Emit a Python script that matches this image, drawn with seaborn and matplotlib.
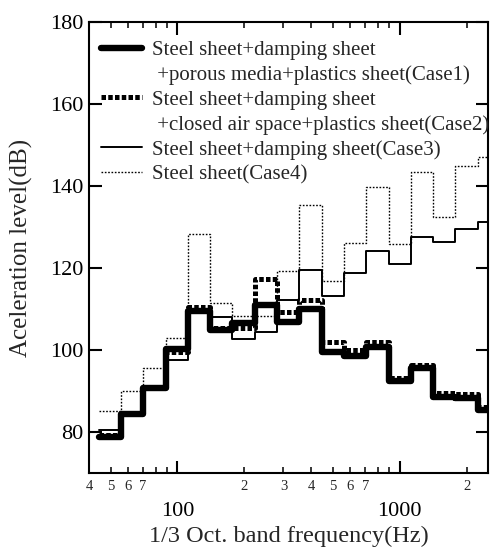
import matplotlib
matplotlib.use("Agg")
import matplotlib.pyplot as plt
from matplotlib.lines import Line2D
from matplotlib.ticker import FixedLocator, FuncFormatter
import numpy as np
import pandas as pd
import seaborn as sns

# 1/3 octave band centre frequencies (Hz)
bands = [50, 63, 80, 100, 125, 160, 200, 250, 315, 400, 500, 630, 800, 1000, 1250, 1600, 2000, 2500]
band_index = list(range(-13, 5))  # exact centres are 1000*2^(k/3)

# acceleration levels (dB)
case1 = [78.9, 84.3, 90.8, 100.2, 109.6, 104.8, 106.7, 111.1, 106.8, 110.1, 99.6, 98.6, 100.8, 92.5, 95.7, 88.6, 88.4, 85.5]
case2 = [79.2, 84.6, 91.0, 99.5, 110.4, 105.3, 105.5, 117.3, 109.2, 112.3, 102.0, 100.0, 102.0, 93.3, 96.4, 89.6, 89.2, 86.2]
case3 = [80.5, 85.0, 90.5, 97.6, 109.6, 108.0, 102.7, 104.4, 112.2, 119.5, 113.3, 118.9, 124.1, 121.0, 127.6, 126.3, 129.6, 131.3]
case4 = [85.1, 89.9, 95.7, 102.9, 128.4, 111.6, 108.2, 108.4, 119.3, 135.4, 116.9, 126.0, 139.8, 125.8, 143.4, 132.5, 145.0, 147.0]

labels = [
    ["Steel sheet+damping sheet", " +porous media+plastics sheet(Case1)"],
    ["Steel sheet+damping sheet", " +closed air space+plastics sheet(Case2)"],
    ["Steel sheet+damping sheet(Case3)"],
    ["Steel sheet(Case4)"],
]

styles = [
    dict(lw=4.6, ls="-"),
    dict(lw=3.6, ls=(0, (0.9, 0.45))),
    dict(lw=1.4, ls="-"),
    dict(lw=1.0, ls=(0, (1.2, 1.2))),
]

sns.set_theme(style="ticks")
plt.rcParams["font.family"] = ["Liberation Serif", "DejaVu Serif"]

# lower band edges plus the final upper edge, for a step outline
edges = [1000 * 2 ** ((k - 0.5) / 3) for k in band_index] + [1000 * 2 ** ((band_index[-1] + 0.5) / 3)]

fig = plt.figure(figsize=(4.92, 5.52), dpi=100)
ax = fig.add_axes([0.181, 0.143, 0.811, 0.817])

handles = []
leg_labels = []
for vals, st, lab in zip([case1, case2, case3, case4], styles, labels):
    df = pd.DataFrame({"freq": edges, "level": vals + [vals[-1]]})
    sns.lineplot(data=df, x="freq", y="level", ax=ax, color="black",
                 drawstyle="steps-post", linewidth=st["lw"], linestyle=st["ls"],
                 sort=False, estimator=None, legend=False)
    handles.append(Line2D([], [], color="black", linewidth=st["lw"], linestyle=st["ls"]))
    leg_labels.append(lab[0])
    for extra in lab[1:]:
        handles.append(Line2D([], [], color="none"))
        leg_labels.append(extra)

ax.set_xscale("log")
ax.set_xlim(40, 2500)
ax.set_ylim(70, 180)
ax.set_yticks([80, 100, 120, 140, 160, 180])

ax.xaxis.set_major_locator(FixedLocator([100, 1000]))
ax.xaxis.set_major_formatter(FuncFormatter(lambda x, p: f"{int(x)}"))
minor = [m * 10 ** e for e in (1, 2, 3) for m in range(2, 10)]
ax.xaxis.set_minor_locator(FixedLocator([v for v in minor if 40 <= v <= 2500]))


def minor_label(x, p):
    lead = int(round(x / 10 ** np.floor(np.log10(x))))
    return str(lead) if 2 <= lead <= 7 else ""


ax.xaxis.set_minor_formatter(FuncFormatter(minor_label))

for s in ax.spines.values():
    s.set_linewidth(1.5)
    s.set_color("black")

ax.tick_params(axis="both", which="major", direction="in", length=9, width=1.5,
               top=True, right=True, labelsize=16, colors="black")
ax.tick_params(axis="x", which="major", pad=21)
ax.tick_params(axis="x", which="minor", direction="in", length=4.5, width=1.3,
               top=True, labelsize=10.5, pad=5)
ax.tick_params(axis="y", which="major", pad=4)

ax.set_xlabel("1/3 Oct. band frequency(Hz)", fontsize=17.5, labelpad=3)
ax.set_ylabel("Aceleration level(dB)", fontsize=18, labelpad=12)

ax.legend(handles, leg_labels, loc="upper left", bbox_to_anchor=(0.0, 0.985),
          frameon=False, fontsize=15, handlelength=2.0, handletextpad=0.45,
          labelspacing=0.25, borderaxespad=0.15)

fig.savefig("out.png", dpi=100)
